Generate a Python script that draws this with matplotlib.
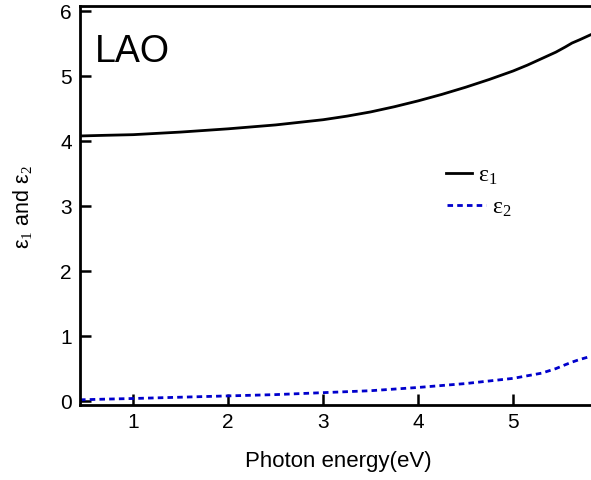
import matplotlib
matplotlib.use("Agg")
import matplotlib.pyplot as plt
from matplotlib.legend import Legend
import numpy as np

plt.rcParams['font.family'] = ['Liberation Sans', 'DejaVu Sans']
plt.rcParams['mathtext.fontset'] = 'custom'
plt.rcParams['mathtext.rm'] = 'Liberation Serif'
plt.rcParams['mathtext.it'] = 'Liberation Serif:italic'

energy = [0.44, 0.7, 1.0, 1.5, 2.0, 2.5, 3.0, 3.25, 3.5, 3.75, 4.0, 4.25, 4.5, 4.75, 5.0, 5.15, 5.3, 5.45, 5.55, 5.62, 5.7, 5.82]
eps1 = [4.08, 4.09, 4.10, 4.14, 4.19, 4.25, 4.33, 4.385, 4.45, 4.53, 4.62, 4.72, 4.83, 4.95, 5.08, 5.17, 5.27, 5.37, 5.45, 5.51, 5.56, 5.64]
eps2 = [0.02, 0.03, 0.04, 0.06, 0.08, 0.10, 0.13, 0.145, 0.16, 0.185, 0.21, 0.24, 0.27, 0.31, 0.35, 0.39, 0.43, 0.50, 0.56, 0.60, 0.64, 0.69]

W, H = 591, 480
fig = plt.figure(figsize=(W / 100, H / 100), dpi=100)
ax = fig.add_axes([80 / W, 1 - 405 / H, 1 - 80 / W, (405 - 6) / H])

l1, = ax.plot(energy, eps1, color='black', lw=2.0, label=r'ε$_1$')
l2, = ax.plot(energy, eps2, color='#0000cc', lw=2.0, ls=(0, (2, 1.5)), label=r'ε$_2$')

ax.set_xlim(0.44, 5.82)
ax.set_ylim(-0.06, 6.08)
ax.set_xticks([1, 2, 3, 4, 5])
ax.set_yticks([0, 1, 2, 3, 4, 5, 6])
for s in ['left', 'bottom', 'top']:
    ax.spines[s].set_linewidth(2.0)
ax.spines['right'].set_visible(False)
ax.tick_params(direction='in', length=8, width=1.8, labelsize=15, pad=6)

ax.set_xlabel('Photon energy(eV)', fontsize=16)
ax.xaxis.set_label_coords(338 / W, 1 - 462 / H, transform=fig.transFigure)
ax.xaxis.label.set_va('center')
ax.xaxis.label.set_ha('center')
ax.set_ylabel(r'ε$_1$ and ε$_2$', fontsize=15.5)
ax.yaxis.set_label_coords(23 / W, 1 - 207 / H, transform=fig.transFigure)
ax.yaxis.label.set_va('center')
ax.yaxis.label.set_ha('center')

ax.text(0.03, 0.93, 'LAO', transform=ax.transAxes, fontsize=27, va='top', ha='left')

common = dict(loc='center left', frameon=False, borderpad=0, borderaxespad=0,
              handletextpad=0.25, prop={'family': 'Liberation Serif', 'size': 17},
              bbox_transform=fig.transFigure)
leg1 = Legend(ax, [l1], [l1.get_label()], handlelength=1.1,
              bbox_to_anchor=(446 / W, 1 - 176 / H), **common)
leg2 = Legend(ax, [l2], [l2.get_label()], handlelength=1.65,
              bbox_to_anchor=(447 / W, 1 - 208 / H), **common)
ax.add_artist(leg1)
ax.add_artist(leg2)

fig.savefig('out.png', dpi=100)
